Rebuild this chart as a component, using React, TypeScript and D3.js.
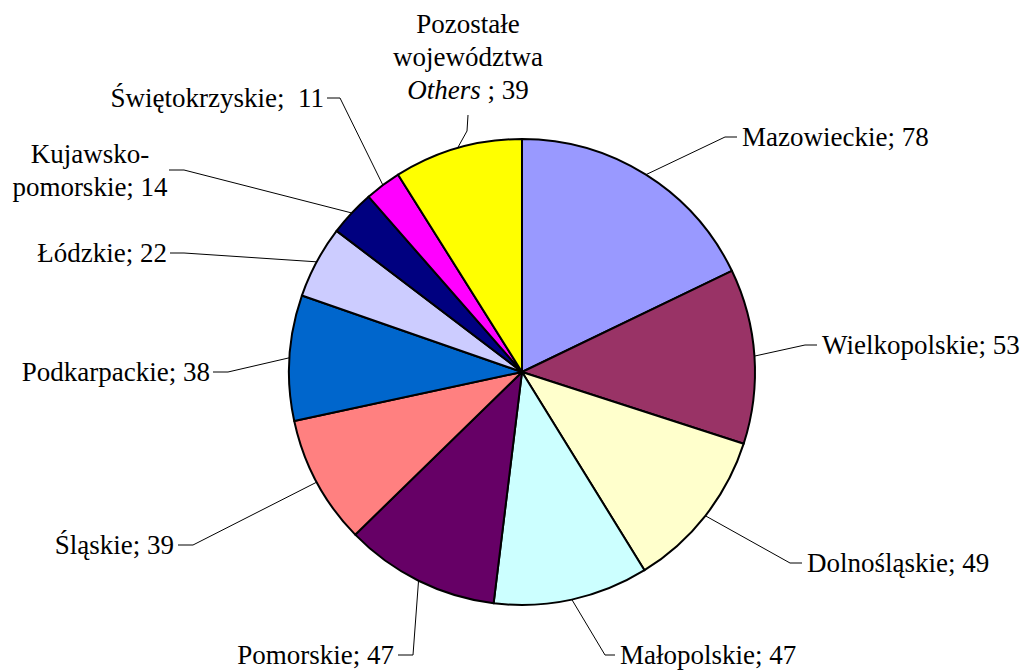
import React, { useEffect, useRef } from "react";
import * as d3 from "d3";

const categories = [
  "Mazowieckie",
  "Wielkopolskie",
  "Dolnośląskie",
  "Małopolskie",
  "Pomorskie",
  "Śląskie",
  "Podkarpackie",
  "Łódzkie",
  "Kujawsko-pomorskie",
  "Świętokrzyskie",
  "Pozostałe województwa Others",
];
const values = [78, 53, 49, 47, 47, 39, 38, 22, 14, 11, 39];
const colors = [
  "#9999FF", "#993366", "#FFFFCC", "#CCFFFF", "#660066", "#FF8080",
  "#0066CC", "#CCCCFF", "#000080", "#FF00FF", "#FFFF00",
];

// label text lines; a line given as [italicPart, rest] has an italic first part
const labelLines: (string | [string, string])[][] = [
  ["Mazowieckie; 78"],
  ["Wielkopolskie; 53"],
  ["Dolnośląskie; 49"],
  ["Małopolskie; 47"],
  ["Pomorskie; 47"],
  ["Śląskie; 39"],
  ["Podkarpackie; 38"],
  ["Łódzkie; 22"],
  ["Kujawsko-", "pomorskie; 14"],
  ["Świętokrzyskie;\u00a0 11"],
  ["Pozostałe", "województwa", ["Others", " ; 39"]],
];

// layout: elbow point, stub end, text anchor, alignment, first baseline
const layout = [
  { ex: 725, ey: 137, sx: 737, sy: 137, tx: 742, ty: 146, a: "start" },
  { ex: 805, ey: 345, sx: 817, sy: 345, tx: 822, ty: 354, a: "start" },
  { ex: 790, ey: 563, sx: 802, sy: 563, tx: 807, ty: 572, a: "start" },
  { ex: 605, ey: 655, sx: 615, sy: 655, tx: 620, ty: 664, a: "start" },
  { ex: 413, ey: 655, sx: 398, sy: 655, tx: 394, ty: 664, a: "end" },
  { ex: 193, ey: 545, sx: 178, sy: 545, tx: 174, ty: 554, a: "end" },
  { ex: 228, ey: 372, sx: 213, sy: 372, tx: 210, ty: 381, a: "end" },
  { ex: 184, ey: 253, sx: 170, sy: 253, tx: 167, ty: 262, a: "end" },
  { ex: 184, ey: 170, sx: 169, sy: 170, tx: 90, ty: 163, a: "middle" },
  { ex: 340, ey: 98, sx: 327, sy: 98, tx: 324, ty: 107, a: "end" },
  { ex: 467, ey: 131, sx: 468, sy: 115, tx: 468, ty: 33, a: "middle" },
];

const W = 1021;
const H = 672;
const cx = 522;
const cy = 372;
const R = 233;
const lineH = 33;
const FONT = "Liberation Serif";
const FS = 27;

export default function App() {
  const ref = useRef<SVGSVGElement>(null);
  useEffect(() => {
    if (!ref.current) return;
    d3.select(ref.current)
      .selectAll<SVGElement, unknown>("text, tspan")
      .each(function () {
        this.style.setProperty("font-family", '"Liberation Serif", serif', "important");
      });
  }, []);

  const pie = d3
    .pie<number>()
    .sort(null)
    .value((d) => d)
    .startAngle(0)
    .endAngle(2 * Math.PI);
  const arcs = pie(values);
  const arcGen = d3.arc<d3.PieArcDatum<number>>().innerRadius(0).outerRadius(R);
  const edgeArc = d3.arc<d3.PieArcDatum<number>>().innerRadius(R).outerRadius(R);

  return (
    <svg
      id="pieChart"
      ref={ref}
      width={W}
      height={H}
      style={{ position: "absolute", left: 0, top: 0 }}
    >
      <style>{`#pieChart text, #pieChart tspan { font-family: "Liberation Serif", serif !important; }`}</style>
      <g transform={`translate(${cx},${cy})`}>
        {arcs.map((a, i) => (
          <path
            key={categories[i]}
            d={arcGen(a) || ""}
            fill={colors[i]}
            stroke="#000"
            strokeWidth={2}
            strokeLinejoin="round"
          />
        ))}
      </g>
      {arcs.map((a, i) => {
        const [px, py] = edgeArc.centroid(a);
        const L = layout[i];
        return (
          <polyline
            key={"p" + categories[i]}
            points={`${cx + px},${cy + py} ${L.ex},${L.ey} ${L.sx},${L.sy}`}
            fill="none"
            stroke="#000"
            strokeWidth={1}
          />
        );
      })}
      {layout.map((L, i) =>
        labelLines[i].map((line, j) => (
          <text
            key={categories[i] + j}
            x={L.tx}
            y={L.ty + j * lineH}
            textAnchor={L.a}
            fontFamily={FONT}
            fontSize={FS}
            fill="#000"
          >
            {typeof line === "string" ? (
              line
            ) : (
              <>
                <tspan fontStyle="italic">{line[0]}</tspan>
                <tspan>{line[1]}</tspan>
              </>
            )}
          </text>
        ))
      )}
    </svg>
  );
}
